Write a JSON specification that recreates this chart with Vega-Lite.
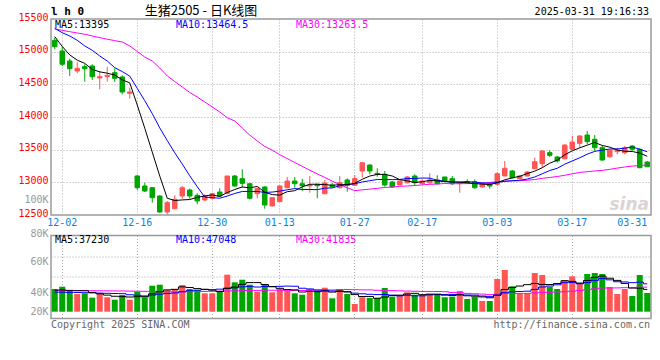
{
"$schema":"https://vega.github.io/schema/vega-lite/v6.json",
"padding":{"left":17,"top":4,"right":4,"bottom":4},
"background":"white",
"config":{"view":{"stroke":"#9a9a9a","strokeWidth":1.5},"font":"DejaVu Sans Mono","axis":{"labelFont":"DejaVu Sans Mono","labelFontSize":10,"ticks":false,"domain":false,"title":null,"gridColor":"#aaaaaa","gridDash":[1,2],"gridWidth":1,"labelOverlap":false,"labelBound":false}},
"datasets":{"k":[
{"d":"11-29","o":15174,"h":15214,"l":15036,"c":15076,"m5":15230,"m10":15358,"m30":15348,"v":37909,"vm5":35905,"vm10":32565,"vm30":35400},
{"d":"12-02","o":15010,"h":15076,"l":14781,"c":14807,"m5":15080,"m10":15290,"m30":15327,"v":41750,"vm5":36239,"vm10":32565,"vm30":35400},
{"d":"12-03","o":14857,"h":14892,"l":14628,"c":14739,"m5":14950,"m10":15240,"m30":15306,"v":35070,"vm5":35571,"vm10":32231,"vm30":35300},
{"d":"12-04","o":14704,"h":14842,"l":14669,"c":14745,"m5":14870,"m10":15174,"m30":15286,"v":29559,"vm5":35070,"vm10":32064,"vm30":35200},
{"d":"12-05","o":14770,"h":14807,"l":14540,"c":14739,"m5":14821,"m10":15087,"m30":15266,"v":30728,"vm5":35003,"vm10":31730,"vm30":35100},
{"d":"12-06","o":14781,"h":14807,"l":14566,"c":14617,"m5":14729,"m10":15021,"m30":15240,"v":23380,"vm5":32097,"vm10":31396,"vm30":35000},
{"d":"12-09","o":14597,"h":14704,"l":14424,"c":14617,"m5":14691,"m10":14934,"m30":15215,"v":30728,"vm5":29893,"vm10":31062,"vm30":34900},
{"d":"12-10","o":14617,"h":14770,"l":14540,"c":14638,"m5":14671,"m10":14857,"m30":15191,"v":24048,"vm5":27689,"vm10":30728,"vm30":34800},
{"d":"12-11","o":14678,"h":14745,"l":14536,"c":14592,"m5":14641,"m10":14755,"m30":15169,"v":20040,"vm5":25785,"vm10":30394,"vm30":34700},
{"d":"12-12","o":14612,"h":14638,"l":14347,"c":14383,"m5":14569,"m10":14695,"m30":15148,"v":27889,"vm5":25217,"vm10":30110,"vm30":34600},
{"d":"12-13","o":14363,"h":14448,"l":14280,"c":14383,"m5":14523,"m10":14626,"m30":15087,"v":20040,"vm5":24549,"vm10":28323,"vm30":34400},
{"d":"12-16","o":13097,"h":13117,"l":12883,"c":12918,"m5":14183,"m10":14437,"m30":15003,"v":33400,"vm5":25083,"vm10":27488,"vm30":34200},
{"d":"12-17","o":12944,"h":12994,"l":12852,"c":12867,"m5":13829,"m10":14250,"m30":14918,"v":24048,"vm5":25083,"vm10":26386,"vm30":34000},
{"d":"12-18","o":12918,"h":12929,"l":12688,"c":12765,"m5":13463,"m10":14052,"m30":14857,"v":43420,"vm5":29759,"vm10":27772,"vm30":33700},
{"d":"12-19","o":12791,"h":12802,"l":12535,"c":12546,"m5":13096,"m10":13833,"m30":14750,"v":45090,"vm5":33200,"vm10":29208,"vm30":33400},
{"d":"12-20","o":12546,"h":12714,"l":12511,"c":12688,"m5":12757,"m10":13640,"m30":14628,"v":36239,"vm5":36439,"vm10":30494,"vm30":33200},
{"d":"12-23","o":12596,"h":12802,"l":12587,"c":12740,"m5":12721,"m10":13452,"m30":14543,"v":37909,"vm5":37341,"vm10":31212,"vm30":33100},
{"d":"12-24","o":12791,"h":12944,"l":12749,"c":12918,"m5":12731,"m10":13280,"m30":14459,"v":44589,"vm5":41449,"vm10":33266,"vm30":33200},
{"d":"12-25","o":12883,"h":12903,"l":12749,"c":12791,"m5":12737,"m10":13100,"m30":14375,"v":37909,"vm5":40347,"vm10":35053,"vm30":33400},
{"d":"12-26","o":12802,"h":12832,"l":12664,"c":12714,"m5":12770,"m10":12933,"m30":14306,"v":36239,"vm5":38577,"vm10":35888,"vm30":33600},
{"d":"12-27","o":12730,"h":12817,"l":12714,"c":12791,"m5":12791,"m10":12774,"m30":14230,"v":30728,"vm5":37475,"vm10":36957,"vm30":33800},
{"d":"12-30","o":12756,"h":12841,"l":12740,"c":12826,"m5":12808,"m10":12765,"m30":14153,"v":30728,"vm5":36039,"vm10":36690,"vm30":34000},
{"d":"12-31","o":12852,"h":12909,"l":12776,"c":12791,"m5":12783,"m10":12757,"m30":14077,"v":33400,"vm5":33801,"vm10":37625,"vm30":34300},
{"d":"01-02","o":12832,"h":13097,"l":12817,"c":13097,"m5":12844,"m10":12790,"m30":13989,"v":61790,"vm5":38577,"vm10":39462,"vm30":34600},
{"d":"01-03","o":13097,"h":13112,"l":12933,"c":12944,"m5":12890,"m10":12830,"m30":13939,"v":49098,"vm5":41149,"vm10":39863,"vm30":34900},
{"d":"01-06","o":13056,"h":13199,"l":12918,"c":12985,"m5":12929,"m10":12860,"m30":13832,"v":53440,"vm5":45691,"vm10":41583,"vm30":35200},
{"d":"01-07","o":12979,"h":12979,"l":12740,"c":12756,"m5":12915,"m10":12861,"m30":13724,"v":45090,"vm5":48564,"vm10":42301,"vm30":35400},
{"d":"01-08","o":12826,"h":12918,"l":12756,"c":12903,"m5":12937,"m10":12860,"m30":13633,"v":33400,"vm5":48564,"vm10":41182,"vm30":35600},
{"d":"01-09","o":12929,"h":12944,"l":12596,"c":12653,"m5":12848,"m10":12846,"m30":13548,"v":46259,"vm5":45457,"vm10":42017,"vm30":35800},
{"d":"01-10","o":12638,"h":12765,"l":12633,"c":12765,"m5":12812,"m10":12851,"m30":13493,"v":32398,"vm5":42117,"vm10":41633,"vm30":35872},
{"d":"01-13","o":12704,"h":12955,"l":12699,"c":12944,"m5":12804,"m10":12866,"m30":13422,"v":37909,"vm5":39011,"vm10":42351,"vm30":35872},
{"d":"01-14","o":12918,"h":13082,"l":12909,"c":13020,"m5":12857,"m10":12886,"m30":13363,"v":35070,"vm5":37007,"vm10":42785,"vm30":35655},
{"d":"01-15","o":13020,"h":13082,"l":12918,"c":12979,"m5":12872,"m10":12905,"m30":13304,"v":30728,"vm5":36473,"vm10":42518,"vm30":35504},
{"d":"01-16","o":12979,"h":13056,"l":12867,"c":12948,"m5":12931,"m10":12890,"m30":13244,"v":28390,"vm5":32899,"vm10":39178,"vm30":35471},
{"d":"01-17","o":12944,"h":13097,"l":12841,"c":12959,"m5":12970,"m10":12891,"m30":13185,"v":37909,"vm5":34001,"vm10":38059,"vm30":35705},
{"d":"01-20","o":12970,"h":12974,"l":12756,"c":12948,"m5":12971,"m10":12888,"m30":13129,"v":35070,"vm5":33433,"vm10":36222,"vm30":36105},
{"d":"01-21","o":12826,"h":13036,"l":12817,"c":12990,"m5":12965,"m10":12911,"m30":13075,"v":40080,"vm5":34435,"vm10":35721,"vm30":36406},
{"d":"01-22","o":12959,"h":12994,"l":12918,"c":12929,"m5":12955,"m10":12914,"m30":13018,"v":22378,"vm5":32765,"vm10":34619,"vm30":36356},
{"d":"01-23","o":12918,"h":13097,"l":12903,"c":12994,"m5":12964,"m10":12948,"m30":12965,"v":37909,"vm5":34669,"vm10":33784,"vm30":36957},
{"d":"01-24","o":13036,"h":13062,"l":12857,"c":12955,"m5":12963,"m10":12967,"m30":12917,"v":29559,"vm5":32999,"vm10":33500,"vm30":37007},
{"d":"01-27","o":12955,"h":13112,"l":12944,"c":13056,"m5":12985,"m10":12978,"m30":12873,"v":12859,"vm5":28557,"vm10":30995,"vm30":36773},
{"d":"02-05","o":13173,"h":13300,"l":13071,"c":13300,"m5":13047,"m10":13006,"m30":12885,"v":24048,"vm5":25351,"vm10":29893,"vm30":36456},
{"d":"02-06","o":13265,"h":13276,"l":13123,"c":13173,"m5":13096,"m10":13025,"m30":12896,"v":22879,"vm5":25451,"vm10":29108,"vm30":36423},
{"d":"02-07","o":13138,"h":13215,"l":13086,"c":13123,"m5":13121,"m10":13043,"m30":12908,"v":22879,"vm5":22445,"vm10":28557,"vm30":35738},
{"d":"02-10","o":13123,"h":13173,"l":12933,"c":12959,"m5":13122,"m10":13043,"m30":12921,"v":39579,"vm5":24449,"vm10":28724,"vm30":35554},
{"d":"02-11","o":13005,"h":13020,"l":12918,"c":12929,"m5":13097,"m10":13041,"m30":12929,"v":25050,"vm5":26887,"vm10":27722,"vm30":35170},
{"d":"02-12","o":12959,"h":13031,"l":12955,"c":13020,"m5":13041,"m10":13044,"m30":12939,"v":27889,"vm5":27655,"vm10":26503,"vm30":34836},
{"d":"02-13","o":12994,"h":13097,"l":12985,"c":13082,"m5":13023,"m10":13059,"m30":12944,"v":32398,"vm5":29559,"vm10":27505,"vm30":34435},
{"d":"02-14","o":13097,"h":13123,"l":12955,"c":12994,"m5":12997,"m10":13059,"m30":12951,"v":28390,"vm5":30661,"vm10":26553,"vm30":34118},
{"d":"02-17","o":12979,"h":13046,"l":12970,"c":13020,"m5":13009,"m10":13066,"m30":12961,"v":28390,"vm5":28423,"vm10":26436,"vm30":33851},
{"d":"02-18","o":12994,"h":13138,"l":12979,"c":13036,"m5":13030,"m10":13064,"m30":12969,"v":29559,"vm5":29325,"vm10":28106,"vm30":33818},
{"d":"02-19","o":13036,"h":13108,"l":12970,"c":12979,"m5":13022,"m10":13032,"m30":12974,"v":27889,"vm5":29325,"vm10":28490,"vm30":33717},
{"d":"02-20","o":13082,"h":13082,"l":13005,"c":13020,"m5":13010,"m10":13016,"m30":12982,"v":24048,"vm5":27655,"vm10":28607,"vm30":33417},
{"d":"02-21","o":13056,"h":13097,"l":12959,"c":12979,"m5":13007,"m10":13002,"m30":12978,"v":25050,"vm5":26987,"vm10":28824,"vm30":32181},
{"d":"02-24","o":12979,"h":12994,"l":12841,"c":12994,"m5":13002,"m10":13005,"m30":12980,"v":34569,"vm5":28223,"vm10":28323,"vm30":31697},
{"d":"02-25","o":13010,"h":13046,"l":12979,"c":12994,"m5":12993,"m10":13012,"m30":12980,"v":21209,"vm5":26553,"vm10":27939,"vm30":30628},
{"d":"02-26","o":13010,"h":13046,"l":12903,"c":12918,"m5":12981,"m10":13002,"m30":12985,"v":25050,"vm5":25985,"vm10":27655,"vm30":29960},
{"d":"02-27","o":12929,"h":12994,"l":12918,"c":12979,"m5":12973,"m10":12991,"m30":12988,"v":17869,"vm5":24749,"vm10":26202,"vm30":29442},
{"d":"02-28","o":12970,"h":12985,"l":12903,"c":12944,"m5":12966,"m10":12986,"m30":12998,"v":17869,"vm5":23313,"vm10":25150,"vm30":28490},
{"d":"03-03","o":12970,"h":13158,"l":12944,"c":13132,"m5":12993,"m10":12998,"m30":13010,"v":54609,"vm5":27321,"vm10":27772,"vm30":29242},
{"d":"03-04","o":13097,"h":13327,"l":13097,"c":13215,"m5":13038,"m10":13015,"m30":13019,"v":69639,"vm5":37007,"vm10":31780,"vm30":30294},
{"d":"03-05","o":13173,"h":13189,"l":13056,"c":13071,"m5":13068,"m10":13025,"m30":13021,"v":42418,"vm5":40481,"vm10":33233,"vm30":30544},
{"d":"03-06","o":13056,"h":13108,"l":13046,"c":13097,"m5":13092,"m10":13032,"m30":13025,"v":29559,"vm5":42819,"vm10":33784,"vm30":30494},
{"d":"03-07","o":13097,"h":13173,"l":13086,"c":13158,"m5":13135,"m10":13050,"m30":13032,"v":29559,"vm5":45157,"vm10":34235,"vm30":30544},
{"d":"03-10","o":13209,"h":13377,"l":13199,"c":13316,"m5":13171,"m10":13082,"m30":13043,"v":64629,"vm5":47161,"vm10":37241,"vm30":31429},
{"d":"03-11","o":13285,"h":13490,"l":13224,"c":13480,"m5":13224,"m10":13131,"m30":13061,"v":61289,"vm5":45491,"vm10":41249,"vm30":32298},
{"d":"03-12","o":13454,"h":13490,"l":13388,"c":13414,"m5":13293,"m10":13181,"m30":13075,"v":41750,"vm5":45357,"vm10":42919,"vm30":32365},
{"d":"03-13","o":13388,"h":13403,"l":13301,"c":13327,"m5":13339,"m10":13215,"m30":13089,"v":37909,"vm5":47027,"vm10":44923,"vm30":32882},
{"d":"03-14","o":13362,"h":13582,"l":13353,"c":13571,"m5":13422,"m10":13278,"m30":13108,"v":52939,"vm5":51703,"vm10":48430,"vm30":33383},
{"d":"03-17","o":13506,"h":13709,"l":13495,"c":13617,"m5":13482,"m10":13327,"m30":13130,"v":59118,"vm5":50601,"vm10":48881,"vm30":34369},
{"d":"03-18","o":13597,"h":13724,"l":13530,"c":13709,"m5":13528,"m10":13376,"m30":13152,"v":47428,"vm5":47829,"vm10":46660,"vm30":35521},
{"d":"03-19","o":13724,"h":13786,"l":13582,"c":13622,"m5":13569,"m10":13431,"m30":13162,"v":62959,"vm5":52071,"vm10":48714,"vm30":36807},
{"d":"03-20","o":13659,"h":13724,"l":13480,"c":13530,"m5":13610,"m10":13474,"m30":13174,"v":64629,"vm5":57415,"vm10":52221,"vm30":38210},
{"d":"03-21","o":13530,"h":13556,"l":13327,"c":13342,"m5":13564,"m10":13493,"m30":13182,"v":62959,"vm5":59419,"vm10":55561,"vm30":39546},
{"d":"03-24","o":13392,"h":13506,"l":13377,"c":13490,"m5":13539,"m10":13510,"m30":13199,"v":41249,"vm5":55845,"vm10":53223,"vm30":39596},
{"d":"03-25","o":13469,"h":13530,"l":13429,"c":13490,"m5":13495,"m10":13511,"m30":13218,"v":29559,"vm5":52271,"vm10":50050,"vm30":39746},
{"d":"03-26","o":13454,"h":13556,"l":13429,"c":13530,"m5":13476,"m10":13523,"m30":13235,"v":37909,"vm5":47261,"vm10":49666,"vm30":40080},
{"d":"03-27","o":13556,"h":13567,"l":13480,"c":13506,"m5":13472,"m10":13541,"m30":13249,"v":26219,"vm5":39579,"vm10":48497,"vm30":39880},
{"d":"03-28","o":13506,"h":13521,"l":13215,"c":13224,"m5":13448,"m10":13506,"m30":13257,"v":61289,"vm5":39245,"vm10":49332,"vm30":40965},
{"d":"03-31","o":13311,"h":13327,"l":13235,"c":13239,"m5":13398,"m10":13468,"m30":13264,"v":31229,"vm5":37241,"vm10":46543,"vm30":41065}
]},
"data":{"name":"k"},
"bounds":"flush",
"spacing":20.5,
"vconcat":[
{"width":600,"height":196,
 "encoding":{"x":{"field":"d","type":"ordinal","sort":null,"scale":{"paddingInner":0,"paddingOuter":0},
   "axis":{"values":["12-02","12-16","12-30","01-13","01-27","02-17","03-03","03-17","03-31"],"labelAngle":0,"labelOverlap":false,"labelColor":"#0a84d6","labelPadding":2,"labelAlign":{"condition":{"test":"datum.value == '03-31'","value":"right"},"value":"center"},"grid":true,"gridOpacity":{"condition":{"test":"datum.value == '03-31'","value":0},"value":1}}}},
 "layer":[
  {"mark":{"type":"rule","strokeWidth":1},
   "encoding":{"y":{"field":"l","type":"quantitative","scale":{"domain":[12500,15500],"nice":false,"zero":false},
     "axis":{"values":[12500,12714,13000,13500,14000,14500,15000,15500],"tickCount":50,"format":"d","labelOverlap":false,"labelExpr":"datum.value == 12714 ? '100K' : datum.label","labelColor":{"condition":{"test":"datum.value == 12714","value":"#999999"},"value":"#ff0000"},"labelOffset":-2,"labelPadding":3,"grid":true,"gridOpacity":{"condition":{"test":"datum.value > 12800 && datum.value < 15200","value":1},"value":0}}},
    "y2":{"field":"h"},
    "color":{"condition":{"test":"datum.c >= datum.o","value":"#ff5555"},"value":"#00a600"}}},
  {"mark":{"type":"bar","width":4.5,"strokeWidth":1},
   "encoding":{"y":{"field":"o","type":"quantitative"},"y2":{"field":"c"},
    "color":{"condition":{"test":"datum.c >= datum.o","value":"#ff5555"},"value":"#00a600"},
    "stroke":{"condition":{"test":"datum.c >= datum.o","value":"#ff5555"},"value":"#00a600"}}},
  {"mark":{"type":"line","color":"#ff00ff","strokeWidth":1},"encoding":{"y":{"field":"m30","type":"quantitative"}}},
  {"mark":{"type":"line","color":"#0000ff","strokeWidth":1},"encoding":{"y":{"field":"m10","type":"quantitative"}}},
  {"mark":{"type":"line","color":"#000000","strokeWidth":1},"encoding":{"y":{"field":"m5","type":"quantitative"}}},
  {"data":{"values":[{}]},"mark":{"type":"text","align":"left","baseline":"middle","fontSize":10,"color":"#000000"},"encoding":{"x":{"value":4},"y":{"value":6},"text":{"value":"MA5:13395"}}},
  {"data":{"values":[{}]},"mark":{"type":"text","align":"left","baseline":"middle","fontSize":10,"color":"#0000ff"},"encoding":{"x":{"value":125},"y":{"value":6},"text":{"value":"MA10:13464.5"}}},
  {"data":{"values":[{}]},"mark":{"type":"text","align":"left","baseline":"middle","fontSize":10,"color":"#ff00ff"},"encoding":{"x":{"value":245},"y":{"value":6},"text":{"value":"MA30:13263.5"}}},
  {"data":{"values":[{}]},"mark":{"type":"text","align":"left","baseline":"middle","fontSize":11,"fontWeight":"bold","color":"#000000"},"encoding":{"x":{"value":0},"y":{"value":-7},"text":{"value":"l h 0"}}},
  {"data":{"values":[{}]},"mark":{"type":"text","align":"center","baseline":"middle","fontSize":13,"font":"Noto Sans CJK SC","color":"#000000"},"encoding":{"x":{"value":150},"y":{"value":-8},"text":{"value":"生猪2505 - 日K线图"}}},
  {"data":{"values":[{}]},"mark":{"type":"text","align":"right","baseline":"middle","fontSize":10,"color":"#000000"},"encoding":{"x":{"value":598},"y":{"value":-7},"text":{"value":"2025-03-31 19:16:33"}}},
  {"data":{"values":[{}]},"mark":{"type":"text","align":"right","baseline":"middle","fontSize":17,"font":"DejaVu Sans","fontStyle":"italic","fontWeight":"bold","color":"#dcd4d4"},"encoding":{"x":{"value":598},"y":{"value":186},"text":{"value":"sina"}}}
 ]},
{"width":600,"height":83,
 "encoding":{"x":{"field":"d","type":"ordinal","sort":null,"scale":{"paddingInner":0,"paddingOuter":0},
   "axis":{"values":["12-02","12-16","12-30","01-13","01-27","02-17","03-03","03-17","03-31"],"labels":false,"grid":true,"gridOpacity":{"condition":{"test":"datum.value == '03-31'","value":0},"value":1}}}},
 "layer":[
  {"mark":{"type":"bar","width":6},
   "encoding":{"y":{"field":"v","type":"quantitative","scale":{"domain":[-11356,127254],"nice":false,"zero":false},
     "axis":{"values":[127000,92600,79700,57950,29500,23300,-3800],"tickCount":50,"labelOverlap":false,"labelExpr":"datum.value == 127000 ? '80K' : datum.value == 79700 ? '60K' : datum.value == 29500 ? '40K' : datum.value == -3800 ? '20K' : ''","labelColor":"#999999","labelOffset":-2,"labelPadding":3,"grid":true,"gridOpacity":{"condition":{"test":"datum.value == 92600 || datum.value == 57950 || datum.value == 23300","value":1},"value":0}}},
    "color":{"condition":{"test":"datum.c >= datum.o","value":"#ff5555"},"value":"#00a600"}}},
  {"mark":{"type":"line","color":"#ff00ff","strokeWidth":1,"interpolate":"step"},"encoding":{"y":{"field":"vm30","type":"quantitative"}}},
  {"mark":{"type":"line","color":"#0000ff","strokeWidth":1,"interpolate":"step"},"encoding":{"y":{"field":"vm10","type":"quantitative"}}},
  {"mark":{"type":"line","color":"#000000","strokeWidth":1,"interpolate":"step"},"encoding":{"y":{"field":"vm5","type":"quantitative"}}},
  {"data":{"values":[{}]},"mark":{"type":"text","align":"left","baseline":"middle","fontSize":10,"color":"#000000"},"encoding":{"x":{"value":4},"y":{"value":4},"text":{"value":"MA5:37230"}}},
  {"data":{"values":[{}]},"mark":{"type":"text","align":"left","baseline":"middle","fontSize":10,"color":"#0000ff"},"encoding":{"x":{"value":125},"y":{"value":4},"text":{"value":"MA10:47048"}}},
  {"data":{"values":[{}]},"mark":{"type":"text","align":"left","baseline":"middle","fontSize":10,"color":"#ff00ff"},"encoding":{"x":{"value":245},"y":{"value":4},"text":{"value":"MA30:41835"}}},
  {"data":{"values":[{}]},"mark":{"type":"text","align":"left","baseline":"middle","fontSize":10,"color":"#666666"},"encoding":{"x":{"value":0},"y":{"value":89},"text":{"value":"Copyright 2025 SINA.COM"}}},
  {"data":{"values":[{}]},"mark":{"type":"text","align":"right","baseline":"middle","fontSize":10,"color":"#666666"},"encoding":{"x":{"value":599},"y":{"value":89},"text":{"value":"http://finance.sina.com.cn"}}}
 ]}
]
}
